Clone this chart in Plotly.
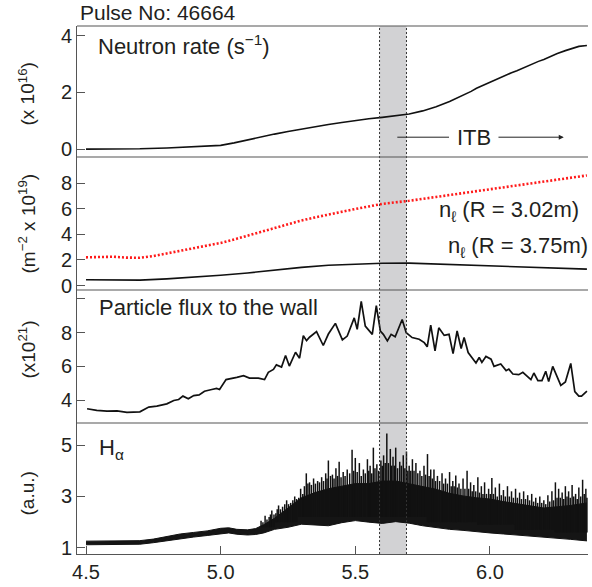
import plotly.graph_objects as go

# ---------------- data ----------------
NR_X = [4.50, 4.60, 4.70, 4.80, 4.90, 5.00, 5.05, 5.10, 5.15, 5.20, 5.25, 5.30, 5.35, 5.40,
        5.45, 5.50, 5.55, 5.60, 5.65, 5.70, 5.75, 5.80, 5.85, 5.90, 5.93, 5.95, 5.98, 6.00,
        6.03, 6.05, 6.08, 6.10, 6.13, 6.15, 6.18, 6.20, 6.23, 6.25, 6.28, 6.30, 6.33, 6.36]
NR_Y = [0.00, 0.00, 0.01, 0.04, 0.08, 0.13, 0.22, 0.33, 0.44, 0.53, 0.62, 0.71, 0.79, 0.87,
        0.94, 1.01, 1.07, 1.12, 1.17, 1.24, 1.35, 1.50, 1.68, 1.90, 2.04, 2.15, 2.28, 2.37,
        2.48, 2.57, 2.70, 2.77, 2.90, 2.96, 3.10, 3.17, 3.30, 3.38, 3.48, 3.55, 3.63, 3.66]

NE1_X = [4.50, 4.55, 4.60, 4.65, 4.70, 4.75, 4.80, 4.85, 4.90, 4.95, 5.00, 5.05, 5.10, 5.15,
         5.20, 5.25, 5.30, 5.35, 5.40, 5.45, 5.50, 5.55, 5.60, 5.65, 5.70, 5.80, 5.90, 6.00,
         6.10, 6.20, 6.30, 6.36]
NE1_Y = [2.20, 2.22, 2.25, 2.18, 2.17, 2.30, 2.50, 2.72, 2.92, 3.12, 3.33, 3.60, 3.90, 4.20,
         4.50, 4.82, 5.08, 5.32, 5.55, 5.78, 5.98, 6.18, 6.38, 6.50, 6.62, 6.92, 7.22, 7.52,
         7.82, 8.10, 8.40, 8.60]
NE2_X = [4.50, 4.60, 4.70, 4.80, 4.90, 5.00, 5.10, 5.20, 5.30, 5.40, 5.50, 5.60, 5.70, 5.80,
         5.90, 6.00, 6.10, 6.20, 6.30, 6.36]
NE2_Y = [0.45, 0.44, 0.42, 0.52, 0.65, 0.80, 0.98, 1.20, 1.42, 1.58, 1.68, 1.74, 1.75, 1.68,
         1.58, 1.50, 1.42, 1.36, 1.30, 1.28]

PF_X = [4.504, 4.54, 4.578, 4.615, 4.652, 4.70, 4.733, 4.763, 4.80, 4.826,
        4.844, 4.86, 4.88, 4.90, 4.92, 4.94, 4.967, 4.985, 4.996, 5.02,
        5.06, 5.085, 5.107, 5.14, 5.163, 5.177, 5.196, 5.207, 5.226, 5.241,
        5.255, 5.278, 5.293, 5.307, 5.319, 5.33, 5.356, 5.381, 5.40, 5.426,
        5.452, 5.47, 5.496, 5.507, 5.522, 5.537, 5.563, 5.578, 5.593, 5.604,
        5.619, 5.633, 5.648, 5.674, 5.689, 5.711, 5.737, 5.756, 5.767, 5.78,
        5.796, 5.81, 5.83, 5.848, 5.863, 5.878, 5.893, 5.904, 5.919, 5.948,
        5.96, 5.97, 5.985, 6.004, 6.015, 6.04, 6.06, 6.07, 6.085, 6.107,
        6.122, 6.152, 6.163, 6.178, 6.193, 6.207, 6.218, 6.233, 6.263, 6.28,
        6.30, 6.315, 6.33, 6.34, 6.36]
PF_Y = [3.49, 3.39, 3.35, 3.37, 3.28, 3.31, 3.59, 3.65, 3.78, 3.98,
        4.04, 4.24, 4.08, 4.27, 4.31, 4.53, 4.63, 4.70, 4.63, 5.22,
        5.35, 5.45, 5.31, 5.31, 5.22, 5.65, 5.82, 6.09, 5.96, 6.65,
        6.02, 6.84, 6.49, 7.82, 7.53, 7.73, 8.06, 7.24, 7.92, 8.55,
        7.57, 7.80, 8.88, 8.20, 9.86, 8.39, 7.90, 9.61, 8.10, 7.90,
        7.51, 7.90, 7.76, 8.78, 8.00, 7.71, 7.61, 7.41, 7.16, 8.45,
        6.92, 8.29, 7.84, 7.90, 6.76, 8.10, 7.06, 7.71, 6.82, 6.20,
        6.53, 6.24, 6.59, 6.43, 6.00, 6.14, 5.75, 5.84, 5.55, 5.51,
        5.65, 5.22, 5.61, 5.16, 5.16, 5.71, 5.10, 6.00, 4.88, 5.08,
        6.18, 4.51, 4.24, 4.24, 4.53]

HA_X = [4.50, 4.55, 4.60, 4.65, 4.70, 4.75, 4.80, 4.85, 4.90, 4.95, 5.00, 5.03, 5.06, 5.10,
        5.13, 5.16, 5.20, 5.25, 5.30, 5.35, 5.40, 5.45, 5.50, 5.55, 5.60, 5.65, 5.70, 5.75,
        5.80, 5.85, 5.90, 5.95, 6.00, 6.05, 6.10, 6.15, 6.20, 6.25, 6.30, 6.36]
HA_LOW = [1.12, 1.12, 1.12, 1.13, 1.14, 1.20, 1.28, 1.36, 1.42, 1.48, 1.56, 1.58, 1.53, 1.50,
          1.52, 1.58, 1.72, 1.80, 1.92, 1.88, 1.86, 1.98, 2.06, 2.00, 1.95, 2.02, 1.96, 1.86,
          1.78, 1.72, 1.68, 1.62, 1.58, 1.54, 1.50, 1.46, 1.42, 1.39, 1.33, 1.27]
HA_SOLID = [1.26, 1.27, 1.26, 1.27, 1.28, 1.34, 1.44, 1.54, 1.60, 1.66, 1.76, 1.78, 1.72, 1.70,
            1.75, 1.90, 2.15, 2.55, 2.95, 3.15, 3.30, 3.40, 3.50, 3.50, 3.60, 3.60, 3.50, 3.40,
            3.28, 3.12, 3.02, 2.95, 2.90, 2.80, 2.72, 2.62, 2.55, 2.60, 2.65, 2.75]

# tall spikes of the H-alpha signal (time, local minimum, peak)
HA_SPIKE_X = [5.150, 5.165, 5.180, 5.190, 5.205, 5.215, 5.230, 5.245, 5.260, 5.275,
              5.290, 5.305, 5.318, 5.330, 5.345, 5.360, 5.375, 5.390, 5.400, 5.415,
              5.428, 5.440, 5.455, 5.470, 5.488, 5.500, 5.515, 5.530, 5.545, 5.555,
              5.567, 5.580, 5.595, 5.605, 5.617, 5.630, 5.640, 5.650, 5.665, 5.678,
              5.690, 5.700, 5.712, 5.725, 5.740, 5.755, 5.768, 5.780, 5.792, 5.805,
              5.822, 5.835, 5.850, 5.862, 5.873, 5.885, 5.900, 5.915, 5.928, 5.940,
              5.955, 5.968, 5.980, 5.995, 6.007, 6.020, 6.035, 6.050, 6.065, 6.080,
              6.095, 6.110, 6.125, 6.140, 6.155, 6.170, 6.185, 6.200, 6.215, 6.230,
              6.243, 6.255, 6.268, 6.280, 6.292, 6.305, 6.318, 6.330, 6.344, 6.356]
HA_SPIKE_TOP = [2.05, 2.25, 2.20, 2.45, 2.35, 2.65, 2.60, 2.85, 2.75, 3.00,
                2.95, 3.10, 3.90, 3.55, 3.70, 3.60, 3.75, 3.90, 4.40, 3.85,
                4.10, 4.35, 3.95, 4.05, 4.82, 4.50, 4.30, 4.05, 4.45, 4.20,
                4.90, 4.25, 4.40, 4.60, 5.45, 4.85, 4.55, 4.90, 4.35, 4.60,
                4.75, 4.20, 4.45, 4.30, 4.00, 4.20, 4.65, 4.05, 4.05, 3.80,
                3.90, 3.70, 3.95, 3.60, 3.82, 3.50, 3.70, 4.00, 3.55, 3.45,
                3.75, 3.40, 3.55, 3.30, 3.72, 3.35, 3.50, 3.25, 3.40, 3.20,
                3.30, 3.15, 3.20, 3.05, 3.10, 2.95, 3.00, 2.85, 3.05, 3.20,
                3.55, 3.30, 3.15, 3.40, 3.20, 3.45, 3.10, 3.35, 3.65, 3.30]
# shorter spikes in between
HA_SPIKE2_X = [5.157, 5.172, 5.185, 5.198, 5.210, 5.222, 5.238, 5.252, 5.268, 5.282,
               5.297, 5.311, 5.324, 5.337, 5.352, 5.367, 5.382, 5.395, 5.408, 5.421,
               5.434, 5.447, 5.462, 5.479, 5.494, 5.507, 5.522, 5.537, 5.550, 5.561,
               5.573, 5.587, 5.600, 5.611, 5.623, 5.635, 5.645, 5.657, 5.671, 5.684,
               5.695, 5.706, 5.718, 5.732, 5.747, 5.761, 5.774, 5.786, 5.798, 5.813,
               5.828, 5.842, 5.856, 5.867, 5.879, 5.892, 5.907, 5.921, 5.934, 5.947,
               5.961, 5.974, 5.987, 6.001, 6.013, 6.027, 6.042, 6.057, 6.072, 6.087,
               6.102, 6.117, 6.132, 6.147, 6.162, 6.177, 6.192, 6.207, 6.222, 6.236,
               6.249, 6.261, 6.274, 6.286, 6.298, 6.311, 6.324, 6.337, 6.350, 6.360]
HA_SPIKE2_TOP = [2.00, 2.10, 2.30, 2.30, 2.50, 2.50, 2.70, 2.70, 2.85, 2.90,
                 3.30, 3.40, 3.50, 3.45, 3.50, 3.55, 3.60, 3.70, 3.80, 3.70,
                 3.80, 3.75, 3.80, 3.90, 4.00, 3.95, 3.80, 3.90, 4.00, 3.90,
                 4.10, 4.00, 4.20, 4.30, 4.30, 4.20, 4.20, 4.10, 4.20, 4.10,
                 4.00, 4.00, 4.00, 3.90, 3.80, 3.85, 3.80, 3.70, 3.60, 3.60,
                 3.50, 3.50, 3.40, 3.40, 3.35, 3.30, 3.30, 3.30, 3.20, 3.20,
                 3.15, 3.10, 3.10, 3.10, 3.10, 3.00, 3.05, 3.00, 3.00, 2.95,
                 2.95, 2.90, 2.90, 2.85, 2.80, 2.75, 2.75, 2.70, 2.80, 2.85,
                 2.95, 2.95, 2.90, 3.00, 2.95, 3.00, 2.90, 3.00, 3.10, 2.95]
HA_SPIKE_LOW = [1.8, 1.8, 1.8, 1.8, 2.0, 2.0, 2.0, 2.0, 2.0, 2.0,
                2.2, 2.2, 2.2, 2.2, 2.2, 2.2, 2.2, 2.2, 2.2, 2.2,
                2.2, 2.2, 2.2, 2.2, 2.2, 2.2, 2.2, 2.2, 2.2, 2.2,
                2.2, 2.2, 2.2, 2.2, 2.2, 2.2, 2.2, 2.2, 2.2, 2.2,
                2.2, 2.2, 2.2, 2.2, 2.2, 2.2, 2.0, 2.0, 2.0, 2.0,
                2.0, 2.0, 2.0, 2.0, 2.0, 2.0, 2.0, 2.0, 2.0, 2.0,
                1.9, 1.9, 1.9, 1.9, 1.9, 1.9, 1.9, 1.9, 1.9, 1.9,
                1.7, 1.7, 1.7, 1.7, 1.7, 1.7, 1.7, 1.7, 1.7, 1.7,
                1.6, 1.6, 1.6, 1.6, 1.6, 1.6, 1.6, 1.6, 1.6, 1.6]

ITB_START, ITB_END = 5.59, 5.69
X_TICKS = [4.5, 5.0, 5.5, 6.0]
X_TICK_TEXT = ["4.5", "5.0", "5.5", "6.0"]

# ---------------- layout helpers ----------------
W, H = 592, 587
ML, MR, MT, MB = 77, 4, 26, 29
PW, PH = W - ML - MR, H - MT - MB
FONT = "Liberation Sans, Arial, Helvetica, sans-serif"
TXT = "#231f20"
AX = "#555555"


def pxx(x):
    return (x - ML) / PW


def pxy(y):
    return (H - MB - y) / PH


# panel boundaries (pixel y)
B = [26, 158, 292, 426, 558]


def dom(top, bot):
    return [pxy(bot), pxy(top)]


fig = go.Figure()

# Neutron rate (y4)
fig.add_trace(go.Scatter(x=NR_X, y=NR_Y, mode="lines", yaxis="y4",
                         line=dict(color="#111", width=1.6)))
# density
fig.add_trace(go.Scatter(x=NE1_X, y=NE1_Y, mode="lines", yaxis="y3",
                         line=dict(color="#ff1a1a", width=2.6, dash="2px,2px")))
fig.add_trace(go.Scatter(x=NE2_X, y=NE2_Y, mode="lines", yaxis="y3",
                         line=dict(color="#111", width=1.6)))
# particle flux
fig.add_trace(go.Scatter(x=PF_X, y=PF_Y, mode="lines", yaxis="y2",
                         line=dict(color="#111", width=1.7)))
# H-alpha band
fig.add_trace(go.Scatter(x=HA_X, y=HA_LOW, mode="lines", yaxis="y",
                         line=dict(color="#111", width=1)))
fig.add_trace(go.Scatter(x=HA_X, y=HA_SOLID, mode="lines", yaxis="y", fill="tonexty",
                         fillcolor="#151515", line=dict(color="#111", width=1)))
sx, sy = [], []
for xs, tops in ((HA_SPIKE_X, HA_SPIKE_TOP), (HA_SPIKE2_X, HA_SPIKE2_TOP)):
    for x, lo, top in zip(xs, HA_SPIKE_LOW, tops):
        sx += [x, x, None]
        sy += [lo, top, None]
fig.add_trace(go.Scatter(x=sx, y=sy, mode="lines", yaxis="y",
                         line=dict(color="#111", width=1.5)))

tickfont = dict(family=FONT, size=20, color=TXT)
yax_common = dict(anchor="x", showline=True, linecolor=AX, linewidth=1, ticks="inside",
                  ticklen=8, tickcolor=AX, tickwidth=1, showgrid=False, zeroline=False,
                  tickfont=tickfont, fixedrange=True)

fig.update_layout(
    width=W, height=H,
    margin=dict(l=ML, r=MR, t=MT, b=MB, pad=0),
    paper_bgcolor="white", plot_bgcolor="white",
    showlegend=False,
    font=dict(family=FONT, color=TXT),
    xaxis=dict(range=[4.4666, 6.364], domain=[0, 1], anchor="y", tickvals=X_TICKS,
               ticktext=X_TICK_TEXT, ticks="inside", ticklen=8, tickcolor=AX,
               showline=True, linecolor=AX, showgrid=False, zeroline=False,
               tickfont=tickfont),
    yaxis=dict(domain=dom(B[3], B[4]), range=[0.76, 5.86], tickvals=[1, 3, 5], **yax_common),
    yaxis2=dict(domain=dom(B[2], B[3]), range=[2.647, 10.53], tickvals=[4, 6, 8, 10],
                ticktext=["4", "6", "8", ""], **yax_common),
    yaxis3=dict(domain=dom(B[1], B[2]), range=[-0.35, 10.04], tickvals=[0, 2, 4, 6, 8],
                **yax_common),
    yaxis4=dict(domain=dom(B[0], B[1]), range=[-0.28, 4.35], tickvals=[0, 2, 4],
                **yax_common),
)

shapes = []
# ITB shaded band
shapes.append(dict(type="rect", xref="x", yref="paper", x0=ITB_START, x1=ITB_END,
                   y0=0, y1=1, fillcolor="#d2d2d4", line=dict(width=0), layer="below"))
for xv in (ITB_START, ITB_END):
    shapes.append(dict(type="line", xref="x", yref="paper", x0=xv, x1=xv, y0=0, y1=1,
                       line=dict(color="#333", width=1, dash="2px,2px"), layer="above"))
# panel separators
for yb in B[:4]:
    shapes.append(dict(type="line", xref="paper", yref="paper", x0=0, x1=1,
                       y0=pxy(yb), y1=pxy(yb), line=dict(color=AX, width=1.2)))
# ITB arrow left line
shapes.append(dict(type="line", xref="x", yref="y4", x0=5.656, x1=5.848, y0=0.42, y1=0.42,
                   line=dict(color="#222", width=1)))
fig.update_layout(shapes=shapes)

anns = []


def label(text, xp, yp, size=22, anchor="left", angle=0):
    anns.append(dict(text=text, xref="paper", yref="paper", x=pxx(xp), y=pxy(yp),
                     xanchor=anchor, yanchor="middle", showarrow=False, textangle=angle,
                     font=dict(family=FONT, size=size, color=TXT)))


label("Pulse No: 46664", 78, 12, size=21)
label("Neutron rate (s<sup>\u22121</sup>)", 96, 45)
label("n<sub>\u2113</sub> (R = 3.02m)", 437, 212)
label("n<sub>\u2113</sub> (R = 3.75m)", 446, 249)
label("Particle flux to the wall", 97, 310)
label("H<sub>\u03b1</sub>", 97, 452)
label("(x 10<sup>16</sup>)", 27, 95, size=19, anchor="center", angle=-90)
label("(m<sup>\u22122</sup> x 10<sup>19</sup>)", 27, 225, size=19, anchor="center", angle=-90)
label("(x10<sup>21</sup>)", 27, 352, size=19, anchor="center", angle=-90)
label("(a.u.)", 27, 497, size=19, anchor="center", angle=-90)

anns.append(dict(text="ITB", xref="x", yref="y4", x=5.94, y=0.42, showarrow=False,
                 xanchor="center", yanchor="middle", font=dict(family=FONT, size=22, color=TXT)))
anns.append(dict(text="", xref="x", yref="y4", x=6.274, y=0.42, ax=6.026, ay=0.42,
                 axref="x", ayref="y4", showarrow=True, arrowhead=2, arrowsize=1,
                 arrowwidth=1, arrowcolor="#222"))
fig.update_layout(annotations=anns)

fig.write_html("out.html")
